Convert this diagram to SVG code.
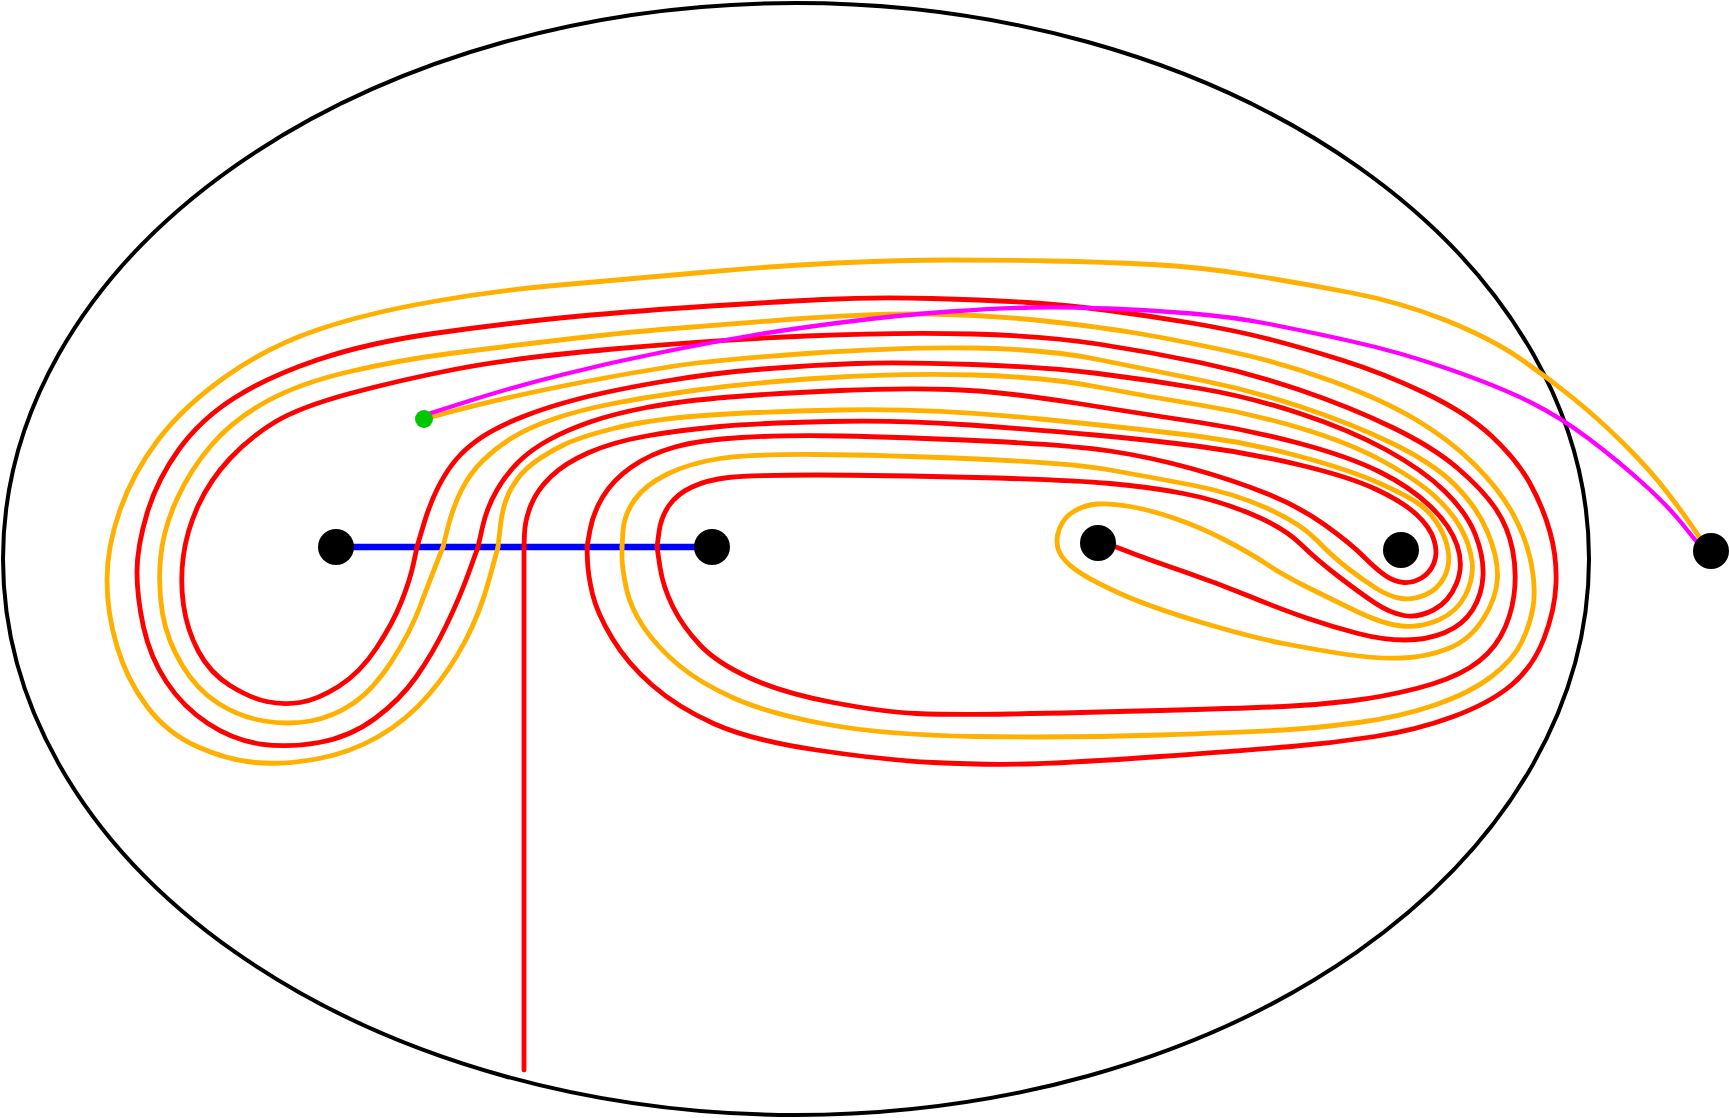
<svg xmlns="http://www.w3.org/2000/svg" width="1729" height="1118" viewBox="0 0 1729 1118">
<style>
.c{fill:none;stroke-width:4.8;stroke-linecap:round;stroke-linejoin:round}
.r{stroke:#ff0000}
.o{stroke:#ffb000}
.m{stroke:#ff00ff;stroke-width:4.3}
.dot{fill:#000000}
</style>
<rect width="1729" height="1118" fill="#ffffff"/>
<ellipse id="boundary" cx="796" cy="559" rx="793" ry="556" fill="none" stroke="#000000" stroke-width="4"/>
<g id="connectors">
<line x1="336" y1="547" x2="712" y2="547" stroke="#0000ff" stroke-width="6.5"/>
<path class="c r" stroke-linecap="butt" d="M524,1070 L524,547"/>
<path class="c r" d="M524,547 L524.5,533.5 Q525,520 531,505 Q537,490 551,476.5 Q565,463 589,452.5 Q613,442 646.5,436 Q680,430 720,426.5 Q760,423 830,421.5 Q900,420 970,425 Q1040,430 1095,435 Q1150,440 1200,446.5 Q1250,453 1300,465 Q1350,477 1376.5,489.5 Q1403,502 1416.5,514.5 Q1430,527 1434,540 Q1438,553 1434,563 Q1430,573 1421.5,578 Q1413,583 1404,582.5 Q1395,582 1386,576 Q1377,570 1363.5,556.5 Q1350,543 1325,525 Q1300,507 1266.5,493.5 Q1233,480 1191.5,468.5 Q1150,457 1110,451 Q1070,445 985,441 Q900,437 841.5,436 Q783,435 741.5,437.5 Q700,440 675,447 Q650,454 631.5,467 Q613,480 603,496.5 Q593,513 590,530 L587,547"/>
<path class="c r" d="M587,547 L587.5,561 Q588,575 592.5,594 Q597,613 612,638 Q627,663 652,685 Q677,707 713.5,723.5 Q750,740 816.5,750 Q883,760 933,762.5 Q983,765 1026.5,764 Q1070,763 1160,756.5 Q1250,750 1291.5,746.5 Q1333,743 1375,736.5 Q1417,730 1453.5,716.5 Q1490,703 1511.5,685 Q1533,667 1544,638.5 Q1555,610 1556,583.5 Q1557,557 1550,532 Q1543,507 1530,483.5 Q1517,460 1492,436.5 Q1467,413 1425,393 Q1383,373 1341.5,360 Q1300,347 1266.5,338.5 Q1233,330 1191.5,323 Q1150,316 1108.5,310.5 Q1067,305 1028,302.5 Q989,300 931.5,298.5 Q874,297 823,299.5 Q772,302 696,307 Q620,312 560,318 Q500,324 433.5,333.5 Q367,343 317,360 Q267,377 233.5,398.5 Q200,420 178.5,450 Q157,480 147,513.5 Q137,547 137,572 Q137,597 143.5,627 Q150,657 166.5,682 Q183,707 208,723.5 Q233,740 260.5,744 Q288,748 319,742.5 Q350,737 375,718.5 Q400,700 416.5,676.5 Q433,653 446.5,625 Q460,597 469,572 L478,547"/>
<path class="c r" d="M478,547 L482.5,527 Q487,507 497,490 Q507,473 519.5,461 Q532,449 549.5,439.5 Q567,430 590,422 Q613,414 646.5,407.5 Q680,401 730,397 Q780,393 840,390.5 Q900,388 950,389.5 Q1000,391 1075,403 Q1150,415 1200,422.5 Q1250,430 1300,443.5 Q1350,457 1380,472 Q1410,487 1430,506 Q1450,525 1457,545 Q1464,565 1456.5,583.5 Q1449,602 1433.5,610 Q1418,618 1404,615.5 Q1390,613 1375,603 Q1360,593 1338.5,576.5 Q1317,560 1300,543.5 Q1283,527 1250,513.5 Q1217,500 1183.5,493.5 Q1150,487 1110,483.5 Q1070,480 976.5,477.5 Q883,475 816.5,475 Q750,475 728.5,477.5 Q707,480 692,487 Q677,494 669,505.5 Q661,517 659,532 L657,547"/>
<path class="c r" d="M657,547 L660,567 Q663,587 673,607 Q683,627 700,645 Q717,663 750,678 Q783,693 833,702.5 Q883,712 916.5,713.5 Q950,715 1010,714 Q1070,713 1160,710.5 Q1250,708 1283.5,706.5 Q1317,705 1350,701 Q1383,697 1416.5,688.5 Q1450,680 1470,667.5 Q1490,655 1500.5,636.5 Q1511,618 1514,595 Q1517,572 1512.5,549.5 Q1508,527 1495.5,508.5 Q1483,490 1458,468.5 Q1433,447 1391.5,427 Q1350,407 1300,390 Q1250,373 1200,362.5 Q1150,352 1098,344 Q1046,336 973,334 Q900,332 806.5,336 Q713,340 613,349 Q513,358 456.5,369 Q400,380 350,393.5 Q300,407 275,422 Q250,437 230,458.5 Q210,480 198.5,505 Q187,530 183.5,555 Q180,580 183.5,605 Q187,630 198.5,651.5 Q210,673 230,685.5 Q250,698 266.5,701.5 Q283,705 300,702.5 Q317,700 338.5,686.5 Q360,673 376.5,648 Q393,623 401.5,601.5 Q410,580 413.5,563.5 L417,547"/>
<path class="c r" d="M417,547 L423.5,525 Q430,503 438.5,486.5 Q447,470 457,458.5 Q467,447 482,437 Q497,427 522,417 Q547,407 580,398.5 Q613,390 663,381.5 Q713,373 763,369 Q813,365 856.5,363.5 Q900,362 973,364.5 Q1046,367 1098,373.5 Q1150,380 1200,388.5 Q1250,397 1300,413.5 Q1350,430 1386.5,450 Q1423,470 1445,491.5 Q1467,513 1475.5,535 Q1484,557 1483,576 Q1482,595 1472.5,610 Q1463,625 1445,632.5 Q1427,640 1405,640 Q1383,640 1358,633.5 Q1333,627 1308,618.5 Q1283,610 1250,596.5 Q1217,583 1183.5,571.5 Q1150,560 1133,553.5 L1116,547"/>
<path class="c o" d="M424,419 L452,411.5 Q480,404 513.5,396.5 Q547,389 588.5,381 Q630,373 671.5,366.5 Q713,360 806.5,353.5 Q900,347 973,348 Q1046,349 1098,359.5 Q1150,370 1200,380 Q1250,390 1300,406.5 Q1350,423 1391.5,443 Q1433,463 1455,485 Q1477,507 1487.5,532 Q1498,557 1497.5,577 Q1497,597 1483.5,618.5 Q1470,640 1448.5,648.5 Q1427,657 1402,658 Q1377,659 1347,654.5 Q1317,650 1283.5,643.5 Q1250,637 1200,622 Q1150,607 1120,593.5 Q1090,580 1076,570 Q1062,560 1058.5,550 Q1055,540 1059.5,528.5 Q1064,517 1074.5,511 Q1085,505 1097.5,504 Q1110,503 1130,506.5 Q1150,510 1175,518.5 Q1200,527 1225,540 Q1250,553 1266.5,564 Q1283,575 1308,587.5 Q1333,600 1358,612 Q1383,624 1401.5,626 Q1420,628 1438.5,620 Q1457,612 1465.5,595 Q1474,578 1472,561.5 Q1470,545 1461,528.5 Q1452,512 1434.5,496 Q1417,480 1383.5,461.5 Q1350,443 1300,428 Q1250,413 1200,405 Q1150,397 1098,387 Q1046,377 973,375 Q900,373 823.5,378 Q747,383 697,390 Q647,397 613.5,403.5 Q580,410 555,418.5 Q530,427 513.5,437 Q497,447 483.5,460 Q470,473 461.5,490 Q453,507 448,527 L443,547"/>
<path class="c o" d="M443,547 L436.5,563.5 Q430,580 420,606.5 Q410,633 391.5,661.5 Q373,690 353,703.5 Q333,717 310.5,721 Q288,725 264,721 Q240,717 218.5,703.5 Q197,690 182,665 Q167,640 162.5,613.5 Q158,587 160.5,558.5 Q163,530 176.5,500 Q190,470 211.5,445 Q233,420 266.5,401.5 Q300,383 350,371.5 Q400,360 450,353.5 Q500,347 560,340 Q620,333 661,329.5 Q702,326 788,319.5 Q874,313 931.5,314 Q989,315 1044.5,321 Q1100,327 1138.5,333.5 Q1177,340 1230,351.5 Q1283,363 1333,381.5 Q1383,400 1416.5,420 Q1450,440 1475,465 Q1500,490 1513.5,515 Q1527,540 1531.5,565 Q1536,590 1533,607.5 Q1530,625 1521.5,642.5 Q1513,660 1491.5,676.5 Q1470,693 1435,705 Q1400,717 1358.5,722.5 Q1317,728 1283.5,730 Q1250,732 1160,735 Q1070,738 976.5,736.5 Q883,735 825,724 Q767,713 733.5,698 Q700,683 678.5,665 Q657,647 643.5,627 Q630,607 626,587 Q622,567 622,557 L622,547"/>
<path class="c o" d="M622,547 L623,531 Q624,515 634.5,500 Q645,485 667.5,474 Q690,463 720,458.5 Q750,454 816.5,454.5 Q883,455 976.5,459 Q1070,463 1110,470 Q1150,477 1191.5,485 Q1233,493 1266.5,508 Q1300,523 1316.5,540 Q1333,557 1348,568.5 Q1363,580 1376.5,588.5 Q1390,597 1401.5,598.5 Q1413,600 1425,595 Q1437,590 1443.5,578.5 Q1450,567 1448.5,553.5 Q1447,540 1439.5,527 Q1432,514 1421,505.5 Q1410,497 1380,483.5 Q1350,470 1300,456.5 Q1250,443 1200,436.5 Q1150,430 1040.5,419 Q931,408 839,410 Q747,412 697,416 Q647,420 613.5,428.5 Q580,437 563.5,445 Q547,453 533.5,463 Q520,473 511.5,488 Q503,503 500.5,525 L498,547"/>
<path class="c o" d="M498,547 L489,580 Q480,613 465,641.5 Q450,670 428.5,695 Q407,720 378.5,736.5 Q350,753 316.5,759 Q283,765 255,762.5 Q227,760 197,746.5 Q167,733 147,706.5 Q127,680 117,646.5 Q107,613 107,580 Q107,547 120,510 Q133,473 158,440 Q183,407 225,377 Q267,347 317,330 Q367,313 433.5,301.5 Q500,290 560,285 Q620,280 696,273 Q772,266 836,263 Q900,260 950,260 Q1000,260 1051.5,261 Q1103,262 1151.5,264.5 Q1200,267 1250,275 Q1300,283 1350,292.5 Q1400,302 1445,320 Q1490,338 1518.5,357.5 Q1547,377 1573.5,398.5 Q1600,420 1625,445 Q1650,470 1666.5,491.5 Q1683,513 1691.5,525.5 L1700,538"/>
<path class="c m" d="M428,414 L470.5,400.5 Q513,387 563,374.5 Q613,362 663,352 Q713,342 751.5,335.5 Q790,329 845,322 Q900,315 950,311.5 Q1000,308 1033.5,307.5 Q1067,307 1108.5,308.5 Q1150,310 1191.5,313.5 Q1233,317 1266.5,323.5 Q1300,330 1350,341 Q1400,352 1450,369.5 Q1500,387 1530,402 Q1560,417 1588.5,438.5 Q1617,460 1642,482.5 Q1667,505 1681.5,523 L1696,541"/>
</g>
<g id="node-a"><circle class="dot" cx="336" cy="547" r="18"/></g>
<g id="node-b"><circle class="dot" cx="712" cy="547" r="18"/></g>
<g id="node-c"><circle class="dot" cx="1098" cy="543" r="18"/></g>
<g id="node-d"><circle class="dot" cx="1401" cy="550" r="18"/></g>
<g id="node-e"><circle class="dot" cx="1711" cy="551" r="18"/></g>
<g id="node-g"><circle cx="424" cy="419" r="9" fill="#00c800"/></g>
</svg>
